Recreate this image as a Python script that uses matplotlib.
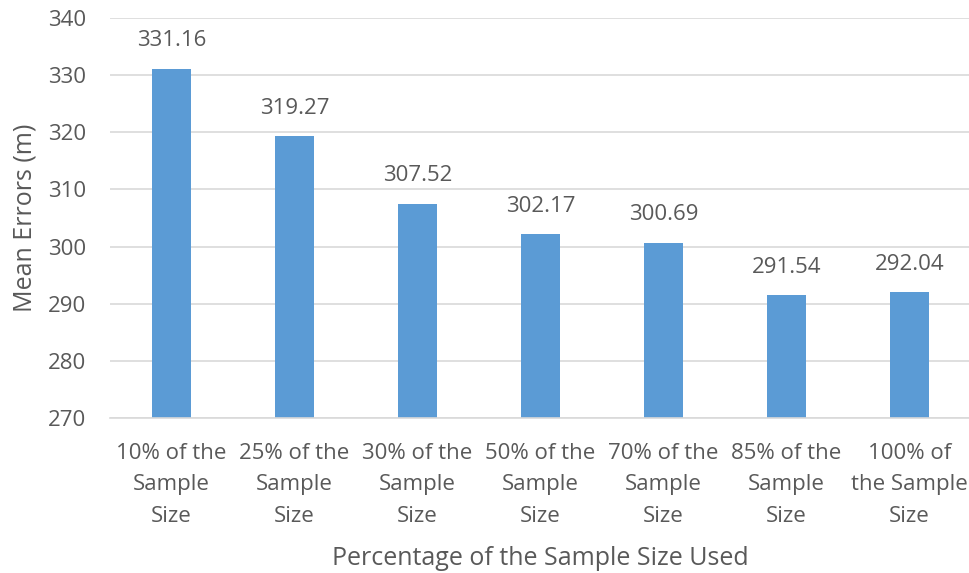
import matplotlib.pyplot as plt
import numpy as np

# 各样本比例下的平均误差
categories = [
    "10% of the\nSample\nSize",
    "25% of the\nSample\nSize",
    "30% of the\nSample\nSize",
    "50% of the\nSample\nSize",
    "70% of the\nSample\nSize",
    "85% of the\nSample\nSize",
    "100% of\nthe Sample\nSize",
]
mean_errors = [331.16, 319.27, 307.52, 302.17, 300.69, 291.54, 292.04]
y_ticks = [270, 280, 290, 300, 310, 320, 330, 340]

text_color = "#595959"
bar_color = "#5B9BD5"
grid_color = "#D9D9D9"

plt.rcParams['font.family'] = ['Open Sans', 'DejaVu Sans']

fig = plt.figure(figsize=(9.7, 5.73), dpi=100)
ax = fig.add_axes([110 / 970, 1 - 418 / 573, 861 / 970, 400 / 573])

x = np.arange(len(categories))
bars = ax.bar(x, mean_errors, width=0.32, color=bar_color, zorder=2)

# 数值标签
for bar, val in zip(bars, mean_errors):
    ax.annotate(f"{val:.2f}", (bar.get_x() + bar.get_width() / 2, val),
                xytext=(0, 20), textcoords='offset points',
                ha='center', va='center', fontsize=16, color=text_color)

ax.set_xlim(-0.5, len(categories) - 0.5)
ax.set_ylim(270, 340)
ax.set_yticks(y_ticks)
ax.set_xticks(x)
ax.set_xticklabels(categories, fontsize=16, color=text_color, linespacing=1.65)
ax.tick_params(axis='y', labelsize=16, labelcolor=text_color, length=0, pad=17)
ax.tick_params(axis='x', length=0, pad=18)

ax.grid(axis='y', color=grid_color, linewidth=1.2, zorder=0)
for side in ['top', 'right', 'left']:
    ax.spines[side].set_visible(False)
ax.spines['bottom'].set_color(grid_color)
ax.spines['bottom'].set_linewidth(1.2)

ax.set_ylabel("Mean Errors (m)", fontsize=18, color=text_color, labelpad=8)
ax.set_xlabel("Percentage of the Sample Size Used", fontsize=18,
              color=text_color, labelpad=14)

fig.savefig("out.png", dpi=100)
